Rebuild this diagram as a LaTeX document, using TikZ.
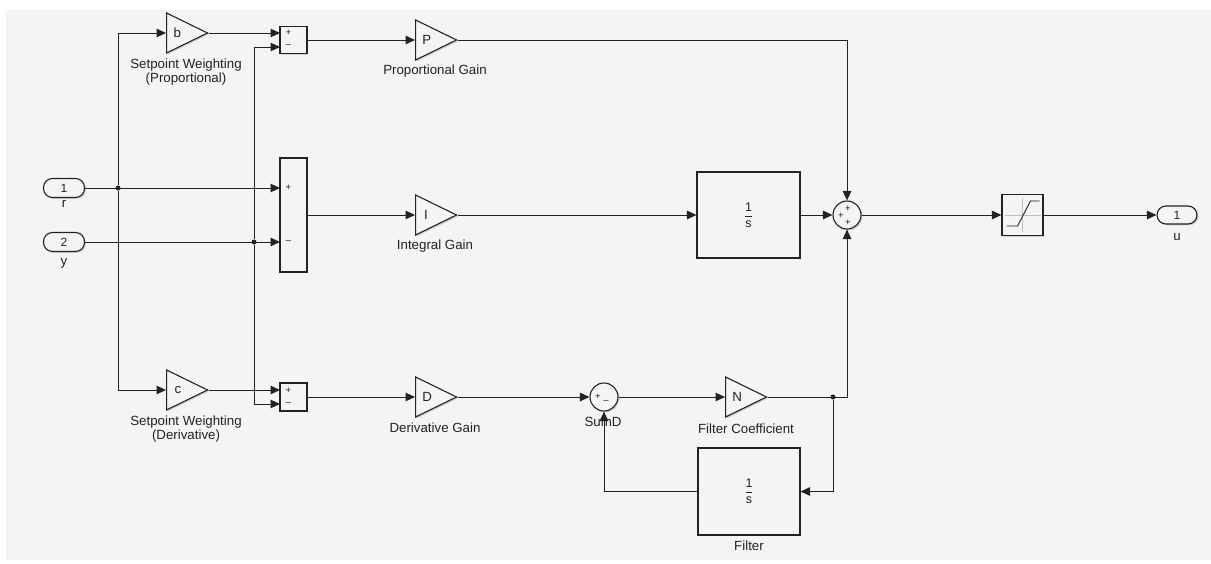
\documentclass[tikz,border=0pt]{standalone}
\usepackage{amsmath}
\usepackage{fontspec}
\setmainfont{Liberation Sans}
\usetikzlibrary{arrows.meta,shapes.geometric,shadows}
\definecolor{simbg}{RGB}{244,244,244}
\definecolor{simln}{RGB}{34,34,34}

\begin{document}
\begin{tikzpicture}[x=1pt,y=-1pt,
  every node/.style={font=\fontsize{13.3}{13.5}\selectfont,text=simln},
  blk/.style={draw=simln,line width=1.1pt,fill=simbg,inner sep=0pt,
    drop shadow={opacity=0.3,shadow xshift=1.4pt,shadow yshift=-1.4pt}},
  gain/.style={blk,isosceles triangle,isosceles triangle stretches,
    minimum width=40pt,minimum height=41pt,anchor=lower side},
  port/.style={blk,rounded corners=9pt,minimum width=41pt,minimum height=19pt,
    font=\fontsize{12}{12}\selectfont},
  sumbox/.style={blk,minimum width=27pt},
  sumrnd/.style={blk,circle,minimum size=28pt},
  intbox/.style={blk,minimum width=103pt,minimum height=86pt,
    font=\fontsize{12.5}{12.5}\selectfont},
  lbl/.style={align=center,inner sep=0pt},
  sgn/.style={font=\fontsize{9.5}{9.5}\selectfont,inner sep=0pt},
  dot/.style={circle,fill=simln,inner sep=0pt,minimum size=5pt},
  sig/.style={draw=simln,line width=1pt,-{Triangle[length=9.5pt,width=8.5pt]}}]

  % canvas
  \fill[white] (0,0) rectangle (1211,563);
  \fill[simbg] (6,10) rectangle (1211,560);
  \useasboundingbox (0,0) rectangle (1211,563);

  % ports
  \node[port] (r) at (64,188) {1};
  \node[port] (y) at (64,242) {2};
  \node[port,minimum width=40pt,minimum height=18pt] (u) at (1177,215) {1};
  \node[lbl] (rl) at (64,204) {r};
  \node[lbl] (yl) at (64,263) {y};
  \node[lbl] (ul) at (1177,237) {u};

  % gains
  \node[gain] (b) at (166,33) {b};
  \node[gain] (c) at (166,390) {c};
  \node[gain] (P) at (415,40) {P};
  \node[gain] (I) at (415,215) {I};
  \node[gain] (D) at (415,397) {D};
  \node[gain] (N) at (725,397) {N};
  \node[lbl] (bl) at (186,72) {Setpoint Weighting\\(Proportional)};
  \node[lbl] (cl) at (186,429) {Setpoint Weighting\\(Derivative)};
  \node[lbl] (Pl) at (435,71) {Proportional Gain};
  \node[lbl] (Il) at (435,246) {Integral Gain};
  \node[lbl] (Dl) at (435,428) {Derivative Gain};
  \node[lbl] (Nl) at (746,429) {Filter Coefficient};

  % sums
  \node[sumbox,minimum height=27pt] (sP) at (293.5,40) {};
  \node[sumbox,minimum height=114pt] (sI) at (293.5,215) {};
  \node[sumbox,minimum height=28pt] (sD) at (293.5,397) {};
  \coordinate (sP1) at (280,33);
  \coordinate (sP2) at (280,47);
  \coordinate (sI1) at (280,188);
  \coordinate (sI2) at (280,242);
  \coordinate (sD1) at (280,390);
  \coordinate (sD2) at (280,404);
  \node[sgn] at (288.5,33) {+};
  \node[sgn] at (288.5,46) {–};
  \node[sgn] at (288.5,188) {+};
  \node[sgn] at (288.5,242) {–};
  \node[sgn] at (288.5,391) {+};
  \node[sgn] at (288.5,404) {–};

  \node[sumrnd] (so) at (847,215) {};
  \node[sgn] at (848,209) {+};
  \node[sgn] at (841,216) {+};
  \node[sgn] at (848,223) {+};

  \node[sumrnd] (sd) at (604,397) {};
  \node[sgn] at (598,397) {+};
  \node[sgn] at (606,402) {–};
  \node[lbl] (sdl) at (603,422) {SumD};

  % integrators
  \node[intbox] (int) at (748.5,215) {$\dfrac{\text{1}}{\text{s}}$};
  \node[intbox,minimum width=102pt,minimum height=87pt] (flt) at (749,491.5) {$\dfrac{\text{1}}{\text{s}}$};
  \node[lbl] (fl) at (749,546) {Filter};

  % saturation
  \node[blk,minimum size=41pt] (sat) at (1022.5,215) {};
  \draw[gray!50,line width=0.6pt] ([shift={(-18,0)}]sat.center) -- ([shift={(18,0)}]sat.center)
    ([shift={(0,-17)}]sat.center) -- ([shift={(0,17)}]sat.center);
  \draw[simln,line width=0.9pt] ([shift={(-16,11)}]sat.center) -- ([shift={(-5,11)}]sat.center)
    -- ([shift={(8,-14)}]sat.center) -- ([shift={(17,-14)}]sat.center);

  % branch points
  \node[dot] (jr) at (118,188) {};
  \node[dot] (jy) at (254,242) {};
  \node[dot] (jn) at (833,397) {};

  % signals
  \draw[sig] (r.east) -- (sI1);
  \draw[sig] (y.east) -- (sI2);
  \draw[sig] (jr) |- (b.lower side);
  \draw[sig] (jr) |- (c.lower side);
  \draw[sig] (jy) |- (sP2);
  \draw[sig] (jy) |- (sD2);
  \draw[sig] (b.apex) -- (sP1);
  \draw[sig] (c.apex) -- (sD1);
  \draw[sig] (sP.east) -- (P.lower side);
  \draw[sig] (sI.east) -- (I.lower side);
  \draw[sig] (sD.east) -- (D.lower side);
  \draw[sig] (P.apex) -| (so.north);
  \draw[sig] (I.apex) -- (int.west);
  \draw[sig] (int.east) -- (so.west);
  \draw[sig] (so.east) -- (sat.west);
  \draw[sig] (sat.east) -- (u.west);
  \draw[sig] (D.apex) -- (sd.west);
  \draw[sig] (sd.east) -- (N.lower side);
  \draw[sig] (N.apex) -| (so.south);
  \draw[sig] (jn) |- (flt.east);
  \draw[sig] (flt.west) -| (sd.south);
\end{tikzpicture}
\end{document}
